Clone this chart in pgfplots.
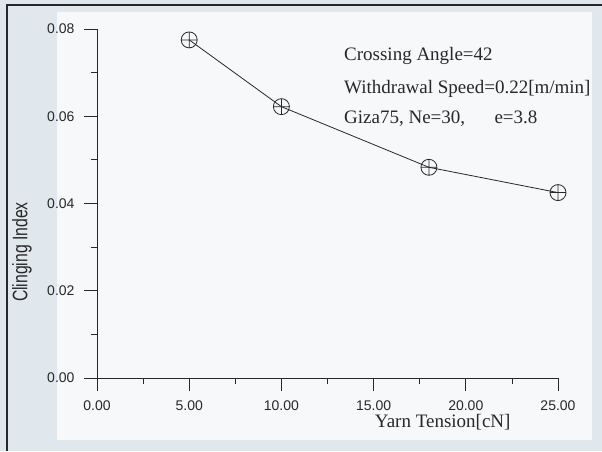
\documentclass[border=0pt]{standalone}
\usepackage{fontspec}
\setmainfont{Liberation Serif}
\setsansfont{Liberation Sans}
\usepackage{pgfplots}
\pgfplotsset{compat=1.18}
\definecolor{bgout}{RGB}{224,231,237}
\definecolor{bgin}{RGB}{246,248,249}
\definecolor{ink}{RGB}{40,40,40}
\begin{document}
\begin{tikzpicture}
\fill[bgout] (-97pt,-73pt) rectangle (505pt,378pt);
\fill[bgin] (-40pt,-62pt) rectangle (495pt,366pt);
\draw[ink,line width=1.5pt] (-90pt,-73pt) -- (-90pt,373pt) -- (505pt,373pt);
\begin{axis}[
  at={(0pt,0pt)}, anchor=south west,
  scale only axis, width=461pt, height=349pt,
  xmin=0, xmax=25, ymin=0, ymax=0.08,
  axis x line*=bottom, axis y line*=left,
  axis line style={ink, line width=0.8pt, -},
  xtick={0,5,...,25}, ytick={0,0.02,0.04,0.06,0.08},
  minor x tick num=1, minor y tick num=1,
  tick align=outside,
  major tick length=13pt, minor tick length=6pt,
  every tick/.style={ink, line width=0.8pt},
  scaled y ticks=false, scaled x ticks=false,
  /pgf/number format/assume math mode=true,
  xticklabel style={/pgf/number format/.cd, fixed, fixed zerofill, precision=2, /tikz/.cd, yshift=-6pt},
  yticklabel style={/pgf/number format/.cd, fixed, fixed zerofill, precision=2, /tikz/.cd, xshift=-6pt},
  tick label style={font=\sffamily\fontsize{14}{16}\selectfont, text=ink},
  xlabel={Yarn Tension[cN]},
  ylabel={\scalebox{0.75}[1]{Clinging Index}},
  every axis x label/.style={at={(rel axis cs:0.75,0)}, yshift=-49pt, anchor=base, font=\rmfamily\fontsize{19}{22}\selectfont, text=ink},
  every axis y label/.style={at={(rel axis cs:0,0.361)}, xshift=-75pt, rotate=90, anchor=center, font=\sffamily\fontsize{21}{24}\selectfont, text=ink},
  clip=false,
]
\addplot[ink, line width=0.8pt, mark=oplus, mark size=8pt, mark options={line width=0.8pt, fill=none}]
  coordinates {(5,0.0775) (10,0.0622) (18,0.0483) (25,0.0425)};
\node[anchor=base west, font=\rmfamily\fontsize{19}{22}\selectfont, text=ink] at (rel axis cs:0.5286,0.911) {Crossing Angle=42};
\node[anchor=base west, font=\rmfamily\fontsize{19}{22}\selectfont, text=ink] at (rel axis cs:0.5286,0.814) {Withdrawal Speed=0.22[m/min]};
\node[anchor=base west, font=\rmfamily\fontsize{19}{22}\selectfont, text=ink] at (rel axis cs:0.5286,0.728) {Giza75, Ne=30,};
\node[anchor=base west, font=\rmfamily\fontsize{19}{22}\selectfont, text=ink] at (rel axis cs:0.8547,0.728) {e=3.8};
\end{axis}
\pgfresetboundingbox
\path (-97pt,-73pt) rectangle (505pt,378pt);
\end{tikzpicture}
\end{document}
